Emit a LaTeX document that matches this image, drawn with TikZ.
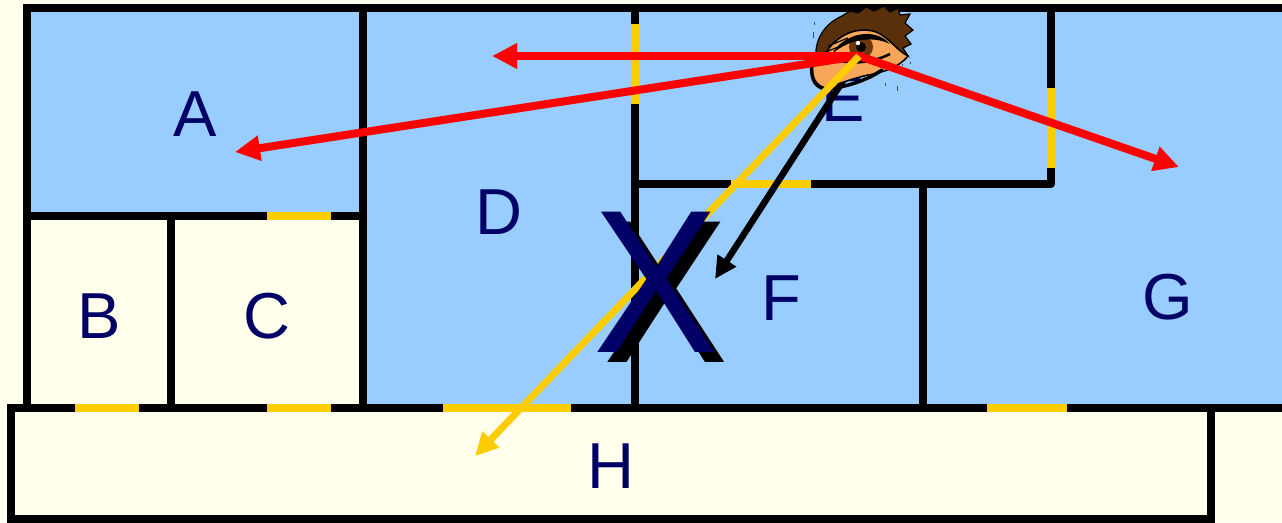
\documentclass[tikz,border=0pt]{standalone}
\usepackage{fontspec}
\setmainfont{Liberation Sans}
\usetikzlibrary{arrows.meta}
\definecolor{cream}{RGB}{255,255,236}
\definecolor{roomblue}{RGB}{153,204,255}
\definecolor{doorgold}{RGB}{255,204,0}
\definecolor{navyink}{RGB}{0,0,102}
\definecolor{hairbrown}{RGB}{90,48,10}
\definecolor{skin}{RGB}{247,166,90}
\definecolor{irisbrown}{RGB}{110,55,10}
\tikzset{
  wall/.style={line width=8pt, black, line cap=rect},
  door/.style={line width=8pt, doorgold, line cap=butt},
  roomlabel/.style={inner sep=0pt, text=navyink, font=\fontsize{65}{65}\selectfont},
  redray/.style={line width=8pt, red, -{Triangle[length=25pt,width=24pt]}},
  goldray/.style={line width=7pt, doorgold, -{Triangle[length=23pt,width=22pt]}},
  blackray/.style={line width=6.5pt, black, -{Triangle[length=22pt,width=21pt]}},
}
\newcommand{\shadowX}{%
  \rlap{\hspace{10pt}\raisebox{-10pt}{\color{black}\scalebox{0.92}[1]{X}}}%
  \scalebox{0.92}[1]{X}}
\begin{document}
\begin{tikzpicture}[x=1pt,y=-1pt]
\clip (0,0) rectangle (1282,522);
\fill[cream] (0,0) rectangle (1282,522);

% room fills
\fill[roomblue] (27,8) rectangle (363,216);
\fill[roomblue] (363,8) rectangle (1290,408);

% walls
\draw[wall] (27,408) -- (27,8) -- (1290,8);
\draw[wall] (11,408) -- (1290,408);
\draw[wall, line cap=butt] (11,404) -- (11,519) -- (1211,519);
\draw[wall] (1211,408) -- (1211,530);
\draw[wall] (27,216) -- (363,216);
\draw[wall] (171,216) -- (171,408);
\draw[wall] (363,8) -- (363,408);
\draw[wall] (635,8) -- (635,408);
\draw[wall, line join=round] (635,184) -- (1051,184) -- (1051,8);
\draw[wall] (923,184) -- (923,408);

% doors
\draw[door] (267,216) -- (331,216);
\draw[door] (75,408) -- (139,408);
\draw[door] (267,408) -- (331,408);
\draw[door] (443,408) -- (571,408);
\draw[door] (987,408) -- (1067,408);
\draw[door] (635,24) -- (635,104);
\draw[door] (731,184) -- (811,184);
\draw[door] (1051,88) -- (1051,168);

% room names
\node[roomlabel] (lA) at (195,114) {A};
\node[roomlabel] (lB) at (99,316) {B};
\node[roomlabel] (lC) at (267,316) {C};
\node[roomlabel] (lD) at (499,212) {D};
\node[roomlabel] (lE) at (843,99) {E};
\node[roomlabel] (lF) at (781,298) {F};
\node[roomlabel] (lG) at (1168,297) {G};
\node[roomlabel] (lH) at (611,466) {H};

% viewpoint and sight targets
\coordinate (eye) at (859,56);
\coordinate (toA) at (235,152);
\coordinate (toD) at (492,56);
\coordinate (toG) at (1179,167);
\coordinate (toH) at (475,456);
\coordinate (toF) at (715,279);

\draw[blackray] (eye) -- (toF);

% the watching eye
\fill[hairbrown, draw=black, line width=1.2pt]
  (816,60) .. controls (814,40) and (824,24) .. (842,16)
  -- (850,11) -- (858,13) -- (866,7) -- (874,11) -- (884,6) -- (890,12)
  -- (898,8) -- (900,15) -- (910,14) -- (905,23) -- (913,30) -- (905,36)
  -- (911,44) -- (903,48) -- (908,56)
  .. controls (896,50) and (890,38) .. (876,32)
  .. controls (858,26) and (836,34) .. (824,56) -- cycle;
\fill[skin, draw=black, line width=1.5pt]
  (824,56) .. controls (836,34) and (858,26) .. (876,32)
  .. controls (890,38) and (896,50) .. (908,56)
  .. controls (898,68) and (884,72) .. (868,75)
  .. controls (850,79) and (836,85) .. (826,88)
  .. controls (815,86) and (810,75) .. (812,62) -- cycle;
\fill[irisbrown] (861,47) circle (12);
\fill[black] (861,47) circle (5);
\fill[white] (858,43) circle (2.2);
\fill[black] (832,54) .. controls (843,34) and (874,26) .. (890,44)
  .. controls (874,36) and (850,38) .. (832,54) -- cycle;
\draw[black, line width=2.5pt] (834,59) .. controls (850,65) and (872,63) .. (890,54);
\draw[black, line width=1.2pt] (828,46) -- (848,38) (826,52) -- (838,47);
\draw[black, line width=3.5pt, line cap=round]
  (812,64) .. controls (810,81) and (817,89) .. (828,89)
  .. controls (845,87) and (866,81) .. (882,70);
\draw[black!70, line width=1pt] (814,22) -- (814,25) (813,32) -- (813,38)
  (885,83) -- (885,86) (897,86) -- (897,91) (902,64) -- (902,66) (910,62) -- (910,64);

% lines of sight
\draw[redray] (eye) -- (toD);
\draw[redray] (eye) -- (toA);
\draw[redray] (eye) -- (toG);
\draw[goldray] (eye) -- (toH);

% blocked view, with its drop shadow
\node[inner sep=0pt, text=navyink, font=\fontsize{204}{204}\selectfont] (xm) at (656.5,287) {\shadowX};
\end{tikzpicture}
\end{document}
